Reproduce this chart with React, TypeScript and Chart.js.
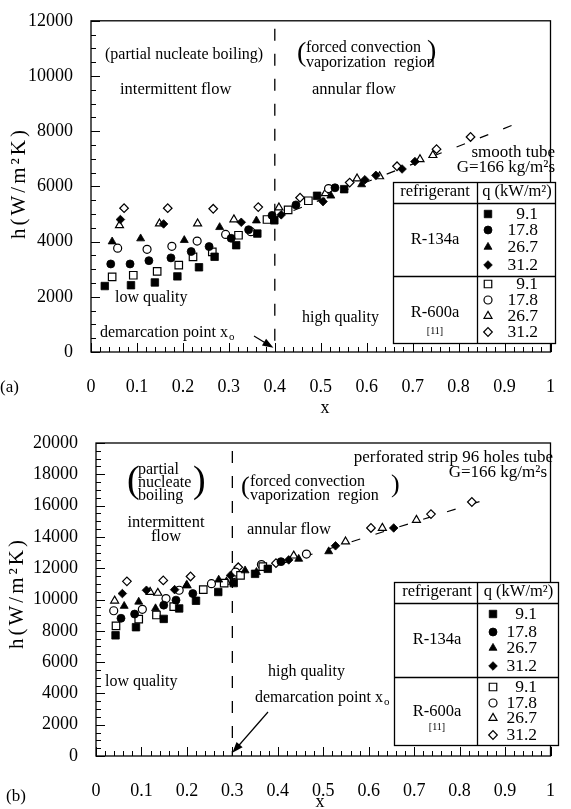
import React, { useEffect, useRef } from 'react';
import { Chart, registerables } from 'chart.js';
import { drawPoint } from 'chart.js/helpers';

Chart.register(...registerables);

const SERIF = '"Liberation Serif", "Times New Roman", serif';

type Pt = [number, number];

// ---------- tick labels ----------
const xTickValues = [0, 0.1, 0.2, 0.3, 0.4, 0.5, 0.6, 0.7, 0.8, 0.9, 1];
const xTickLabels = ['0', '0.1', '0.2', '0.3', '0.4', '0.5', '0.6', '0.7', '0.8', '0.9', '1'];
const yTickValuesA = [0, 2000, 4000, 6000, 8000, 10000, 12000];
const yTickLabelsA = ['0', '2000', '4000', '6000', '8000', '10000', '12000'];
const yTickValuesB = [0, 2000, 4000, 6000, 8000, 10000, 12000, 14000, 16000, 18000, 20000];
const yTickLabelsB = ['0', '2000', '4000', '6000', '8000', '10000', '12000', '14000', '16000', '18000', '20000'];

const refrigerants = ['R-134a', 'R-600a'];
const heatFluxes = ['9.1', '17.8', '26.7', '31.2'];

// ---------- panel (a): smooth tube ----------
const aR134a_91: Pt[] = [[0.030, 2390], [0.087, 2420], [0.139, 2520], [0.188, 2740], [0.235, 3070], [0.269, 3450], [0.316, 3870], [0.362, 4290], [0.399, 4770], [0.492, 5660], [0.551, 5900]];
const aR134a_178: Pt[] = [[0.043, 3190], [0.085, 3190], [0.126, 3310], [0.174, 3410], [0.218, 3640], [0.257, 3820], [0.305, 4120], [0.343, 4430], [0.394, 4950], [0.446, 5330], [0.531, 5950]];
const aR134a_267: Pt[] = [[0.046, 4000], [0.108, 4110], [0.203, 4050], [0.280, 4520], [0.360, 4760], [0.522, 5660], [0.589, 6070]];
const aR134a_312: Pt[] = [[0.064, 4800], [0.158, 4640], [0.327, 4700], [0.414, 4970], [0.505, 5450], [0.596, 6240], [0.620, 6400], [0.677, 6630], [0.705, 6900]];
const aR600a_91: Pt[] = [[0.046, 2720], [0.092, 2780], [0.144, 2920], [0.191, 3150], [0.222, 3450], [0.264, 3630], [0.321, 4230], [0.383, 4800], [0.429, 5150], [0.473, 5480]];
const aR600a_178: Pt[] = [[0.058, 3760], [0.122, 3720], [0.176, 3830], [0.231, 4020], [0.293, 4260], [0.348, 4360], [0.517, 5920]];
const aR600a_267: Pt[] = [[0.062, 4590], [0.149, 4650], [0.232, 4650], [0.311, 4800], [0.409, 5230], [0.510, 5750], [0.579, 6280], [0.628, 6360], [0.716, 6980], [0.744, 7130]];
const aR600a_312: Pt[] = [[0.072, 5210], [0.167, 5210], [0.266, 5190], [0.364, 5250], [0.455, 5590], [0.563, 6140], [0.666, 6730], [0.752, 7350], [0.826, 7790]];
const aTrend: Pt[] = [[0.39, 4800], [0.93, 8300]];
const aDemarcation = 0.4;

// ---------- panel (b): perforated strip 96 holes tube ----------
const bR134a_91: Pt[] = [[0.043, 7710], [0.088, 8230], [0.149, 8760], [0.183, 9430], [0.220, 9920], [0.269, 10480], [0.303, 11050], [0.350, 11640], [0.378, 11960]];
const bR134a_178: Pt[] = [[0.055, 8800], [0.085, 9070], [0.149, 9640], [0.176, 9960], [0.213, 10380], [0.407, 12420]];
const bR134a_267: Pt[] = [[0.062, 9580], [0.094, 9850], [0.131, 9430], [0.199, 10900], [0.270, 11260], [0.328, 11850], [0.353, 11750], [0.446, 12590], [0.512, 13070]];
const bR134a_312: Pt[] = [[0.058, 10380], [0.111, 10590], [0.173, 10630], [0.296, 11540], [0.424, 12530], [0.527, 13430], [0.655, 14570]];
const bR600a_91: Pt[] = [[0.044, 8320], [0.094, 8740], [0.133, 9010], [0.171, 9540], [0.236, 10630], [0.282, 11050], [0.318, 11540], [0.367, 12100]];
const bR600a_178: Pt[] = [[0.039, 9280], [0.102, 9370], [0.154, 10060], [0.183, 10590], [0.254, 11010], [0.307, 11750], [0.364, 12230], [0.463, 12900]];
const bR600a_267: Pt[] = [[0.041, 9920], [0.119, 10480], [0.136, 10420], [0.200, 10900], [0.287, 11120], [0.435, 12800], [0.549, 13700], [0.630, 14570], [0.705, 15080]];
const bR600a_312: Pt[] = [[0.068, 11160], [0.148, 11220], [0.208, 11470], [0.313, 12060], [0.396, 12320], [0.605, 14570], [0.737, 15460], [0.827, 16230]];
const bTrend: Pt[] = [[0.3, 11300], [0.876, 16550]];
const bDemarcation = 0.3;

// ---------- styling ----------
const MARKERS = [
  { style: 'rect', r: 5.3 },
  { style: 'circle', r: 4 },
  { style: 'triangle', r: 4.6 },
  { style: 'rectRot', r: 4.3 },
];

interface TextItem { t: string; x: number; y: number; size?: number; align?: CanvasTextAlign }

interface PanelCfg {
  height: number;
  padTop: number;
  padRight: number;
  yAxisW: number;
  xAxisH: number;
  yMax: number;
  yTickValues: number[];
  yTickLabels: string[];
  series: Pt[][];
  trend: Pt[];
  demarcation: number;
  texts: TextItem[];
  demarc: { x: number; y: number; tail: [number, number]; tip: [number, number] };
  legend: {
    left: number; right: number; mid: number; top: number; head: number; sep: number; bottom: number;
    rows: number[]; markerX: number; numRight: number; refX: number; r134Y: number; r600Y: number; refY: number; headY: number;
  };
  yTitle: { x: number; y: number };
  xTitle: { x: number; y: number };
  label: { t: string; x: number; y: number };
}

function font(size: number) {
  return `${size}px ${SERIF}`;
}

function drawText(ctx: CanvasRenderingContext2D, it: TextItem) {
  ctx.font = font(it.size ?? 16);
  ctx.textAlign = it.align ?? 'left';
  ctx.textBaseline = 'middle';
  ctx.fillStyle = '#000';
  ctx.fillText(it.t, it.x, it.y);
}

function makePlugin(cfg: PanelCfg) {
  return {
    id: 'annot',
    beforeDatasetsDraw(chart: any) {
      const { ctx, chartArea: ca, scales } = chart;
      const px = scales.x.getPixelForValue(cfg.demarcation);
      ctx.save();
      ctx.strokeStyle = '#000';
      ctx.lineWidth = 1.3;
      ctx.setLineDash([12, 13]);
      ctx.beginPath();
      ctx.moveTo(px, ca.top + 8);
      ctx.lineTo(px, ca.bottom);
      ctx.stroke();
      ctx.restore();
    },
    afterDraw(chart: any) {
      const { ctx, chartArea: ca, scales } = chart;
      const xs = scales.x;
      const ys = scales.y;
      ctx.save();
      // frame
      ctx.strokeStyle = '#000';
      ctx.lineWidth = 1.3;
      ctx.setLineDash([]);
      ctx.strokeRect(ca.left, ca.top, ca.right - ca.left, ca.bottom - ca.top);
      // inward ticks
      ctx.lineWidth = 1;
      ctx.beginPath();
      for (let i = 0; i <= 50; i++) {
        const p = Math.round(xs.getPixelForValue(i / 50)) + 0.5;
        const len = i % 5 === 0 ? 9 : 5;
        ctx.moveTo(p, ca.bottom);
        ctx.lineTo(p, ca.bottom - len);
      }
      const nY = cfg.yMax / 500;
      for (let i = 0; i <= nY; i++) {
        const p = Math.round(ys.getPixelForValue(i * 500)) + 0.5;
        const len = i % 4 === 0 ? 9 : 5;
        ctx.moveTo(ca.left, p);
        ctx.lineTo(ca.left + len, p);
      }
      ctx.stroke();

      // texts
      cfg.texts.forEach((t) => drawText(ctx, t));

      // demarcation point x_o + arrow
      ctx.font = font(16);
      ctx.textAlign = 'left';
      ctx.textBaseline = 'middle';
      const s = 'demarcation point x';
      ctx.fillText(s, cfg.demarc.x, cfg.demarc.y);
      const w = ctx.measureText(s).width;
      ctx.font = font(11);
      ctx.fillText('o', cfg.demarc.x + w + 1, cfg.demarc.y + 4);
      const [tx, ty] = cfg.demarc.tail;
      const hx = xs.getPixelForValue(cfg.demarc.tip[0]);
      const hy = ys.getPixelForValue(cfg.demarc.tip[1]);
      const ang = Math.atan2(hy - ty, hx - tx);
      const hl = 11, hw = 4;
      ctx.lineWidth = 1.2;
      ctx.beginPath();
      ctx.moveTo(tx, ty);
      ctx.lineTo(hx - Math.cos(ang) * hl * 0.8, hy - Math.sin(ang) * hl * 0.8);
      ctx.stroke();
      ctx.beginPath();
      ctx.moveTo(hx, hy);
      ctx.lineTo(hx - Math.cos(ang) * hl - Math.sin(ang) * hw, hy - Math.sin(ang) * hl + Math.cos(ang) * hw);
      ctx.lineTo(hx - Math.cos(ang) * hl + Math.sin(ang) * hw, hy - Math.sin(ang) * hl - Math.cos(ang) * hw);
      ctx.closePath();
      ctx.fillStyle = '#000';
      ctx.fill();

      // legend table
      const L = cfg.legend;
      ctx.fillStyle = '#fff';
      ctx.fillRect(L.left, L.top, L.right - L.left, L.bottom - L.top);
      ctx.strokeStyle = '#000';
      ctx.lineWidth = 1.3;
      ctx.strokeRect(L.left + 0.5, L.top + 0.5, L.right - L.left, L.bottom - L.top);
      ctx.beginPath();
      ctx.moveTo(L.mid + 0.5, L.top);
      ctx.lineTo(L.mid + 0.5, L.bottom);
      ctx.moveTo(L.left, L.head + 0.5);
      ctx.lineTo(L.right, L.head + 0.5);
      ctx.moveTo(L.left, L.sep + 0.5);
      ctx.lineTo(L.right, L.sep + 0.5);
      ctx.stroke();
      drawText(ctx, { t: 'refrigerant', x: L.refX, y: L.headY, size: 16.5, align: 'center' });
      drawText(ctx, { t: 'q (kW/m²)', x: (L.mid + L.right) / 2 + 1, y: L.headY, size: 16.5, align: 'center' });
      drawText(ctx, { t: refrigerants[0], x: L.refX, y: L.r134Y, size: 16.5, align: 'center' });
      drawText(ctx, { t: refrigerants[1], x: L.refX, y: L.r600Y, size: 16.5, align: 'center' });
      drawText(ctx, { t: '[11]', x: L.refX, y: L.refY, size: 10, align: 'center' });
      L.rows.forEach((ry, i) => {
        const m = MARKERS[i % 4];
        const filled = i < 4;
        ctx.fillStyle = filled ? '#000' : '#fff';
        ctx.strokeStyle = '#000';
        ctx.lineWidth = filled ? 0.8 : 1.2;
        drawPoint(ctx, { pointStyle: m.style as any, radius: m.r, borderWidth: ctx.lineWidth, rotation: 0 }, L.markerX, ry);
        drawText(ctx, { t: heatFluxes[i % 4], x: L.numRight, y: ry, size: 17.5, align: 'right' });
      });

      // axis titles
      ctx.save();
      ctx.translate(cfg.yTitle.x, cfg.yTitle.y);
      ctx.rotate(-Math.PI / 2);
      ctx.font = font(21);
      ctx.textAlign = 'center';
      ctx.textBaseline = 'middle';
      ctx.fillStyle = '#000';
      (ctx as any).letterSpacing = '3px';
      ctx.fillText('h(W/m²K)', 0, 0);
      ctx.restore();
      drawText(ctx, { t: 'x', x: cfg.xTitle.x, y: cfg.xTitle.y, size: 18, align: 'center' });
      drawText(ctx, { t: cfg.label.t, x: cfg.label.x, y: cfg.label.y, size: 17, align: 'left' });
      ctx.restore();
    },
  };
}

function buildConfig(cfg: PanelCfg): any {
  const datasets: any[] = cfg.series.map((pts, i) => {
    const m = MARKERS[i % 4];
    const filled = i < 4;
    return {
      type: 'scatter',
      label: `${refrigerants[filled ? 0 : 1]} q=${heatFluxes[i % 4]}`,
      data: pts.map(([x, y]) => ({ x, y })),
      pointStyle: m.style,
      pointRadius: m.r,
      pointBackgroundColor: filled ? '#000' : '#fff',
      pointBorderColor: '#000',
      pointBorderWidth: filled ? 0.8 : 1.2,
      showLine: false,
      order: filled ? 1 : 2,
    };
  });
  datasets.push({
    type: 'line',
    label: 'trend',
    data: cfg.trend.map(([x, y]) => ({ x, y })),
    borderColor: '#000',
    borderWidth: 1.2,
    borderDash: [9, 16],
    pointRadius: 0,
    fill: false,
    order: 3,
  });
  const tickFont = { family: SERIF, size: 18 };
  return {
    type: 'scatter',
    data: { datasets },
    options: {
      responsive: false,
      animation: false,
      events: [],
      layout: { padding: { top: cfg.padTop, right: cfg.padRight, left: 0, bottom: 0 } },
      plugins: { legend: { display: false }, tooltip: { enabled: false } },
      scales: {
        x: {
          type: 'linear',
          min: 0,
          max: 1,
          grid: { display: false },
          border: { display: false },
          afterBuildTicks: (s: any) => { s.ticks = xTickValues.map((v) => ({ value: v })); },
          afterFit: (s: any) => { s.height = cfg.xAxisH; },
          ticks: {
            callback: (_v: any, i: number) => xTickLabels[i],
            font: tickFont,
            color: '#000',
            padding: 16,
            maxRotation: 0,
            autoSkip: false,
          },
        },
        y: {
          type: 'linear',
          min: 0,
          max: cfg.yMax,
          grid: { display: false },
          border: { display: false },
          afterBuildTicks: (s: any) => { s.ticks = cfg.yTickValues.map((v) => ({ value: v })); },
          afterFit: (s: any) => { s.width = cfg.yAxisW; },
          ticks: {
            callback: (_v: any, i: number) => cfg.yTickLabels[i],
            font: tickFont,
            color: '#000',
            padding: 10,
            autoSkip: false,
          },
        },
      },
    },
    plugins: [makePlugin(cfg)],
  };
}

const panelA: PanelCfg = {
  height: 420,
  padTop: 14,
  padRight: 11,
  yAxisW: 91,
  xAxisH: 68,
  yMax: 12000,
  yTickValues: yTickValuesA,
  yTickLabels: yTickLabelsA,
  series: [aR134a_91, aR134a_178, aR134a_267, aR134a_312, aR600a_91, aR600a_178, aR600a_267, aR600a_312],
  trend: aTrend,
  demarcation: aDemarcation,
  texts: [
    { t: '(partial nucleate boiling)', x: 105, y: 55 },
    { t: 'intermittent flow', x: 120, y: 90, size: 16.5 },
    { t: '(', x: 297, y: 54, size: 28 },
    { t: 'forced convection', x: 306, y: 48 },
    { t: 'vaporization  region', x: 306, y: 63 },
    { t: ')', x: 427, y: 52, size: 28 },
    { t: 'annular flow', x: 312, y: 90, size: 16.5 },
    { t: 'smooth tube', x: 555, y: 153, size: 17, align: 'right' },
    { t: 'G=166 kg/m²s', x: 555, y: 168, size: 17, align: 'right' },
    { t: 'low quality', x: 115, y: 298 },
    { t: 'high quality', x: 302, y: 318 },
  ],
  demarc: { x: 100, y: 333, tail: [254, 336], tip: [0.397, 150] },
  legend: {
    left: 393, right: 555, mid: 477, top: 182, head: 203, sep: 276, bottom: 343,
    rows: [214, 230, 247, 265, 284, 300, 316, 332],
    markerX: 488, numRight: 538, refX: 435, r134Y: 240, r600Y: 313, refY: 331, headY: 192,
  },
  yTitle: { x: 19, y: 183 },
  xTitle: { x: 325, y: 408 },
  label: { t: '(a)', x: 0, y: 388 },
};

const panelB: PanelCfg = {
  height: 389,
  padTop: 23,
  padRight: 6,
  yAxisW: 96,
  xAxisH: 53,
  yMax: 20000,
  yTickValues: yTickValuesB,
  yTickLabels: yTickLabelsB,
  series: [bR134a_91, bR134a_178, bR134a_267, bR134a_312, bR600a_91, bR600a_178, bR600a_267, bR600a_312],
  trend: bTrend,
  demarcation: bDemarcation,
  texts: [
    { t: '(', x: 127, y: 62, size: 38 },
    { t: 'partial', x: 138, y: 50 },
    { t: 'nucleate', x: 138, y: 63 },
    { t: 'boiling', x: 138, y: 76 },
    { t: ')', x: 193, y: 62, size: 38 },
    { t: 'intermittent', x: 166, y: 103, size: 16.5, align: 'center' },
    { t: 'flow', x: 166, y: 117, size: 16.5, align: 'center' },
    { t: '(', x: 241, y: 67, size: 26 },
    { t: 'forced convection', x: 250, y: 62 },
    { t: 'vaporization  region', x: 250, y: 76 },
    { t: ')', x: 391, y: 65, size: 26 },
    { t: 'annular flow', x: 247, y: 110, size: 16.5 },
    { t: 'perforated strip 96 holes tube', x: 553, y: 38, size: 17, align: 'right' },
    { t: 'G=166 kg/m²s', x: 547, y: 53, size: 17, align: 'right' },
    { t: 'low quality', x: 105, y: 262 },
    { t: 'high quality', x: 268, y: 252 },
  ],
  demarc: { x: 255, y: 278, tail: [268, 292], tip: [0.3, 200] },
  legend: {
    left: 394, right: 558, mid: 477, top: 162, head: 183, sep: 257, bottom: 325,
    rows: [194, 212, 228, 246, 267, 283, 298, 315],
    markerX: 493, numRight: 537, refX: 437, r134Y: 220, r600Y: 292, refY: 307, headY: 172,
  },
  yTitle: { x: 17, y: 173 },
  xTitle: { x: 320, y: 382 },
  label: { t: '(b)', x: 6, y: 377 },
};

function Panel({ cfg, top }: { cfg: PanelCfg; top: number }) {
  const ref = useRef<HTMLCanvasElement>(null);
  useEffect(() => {
    if (!ref.current) return;
    const chart = new Chart(ref.current, buildConfig(cfg));
    return () => chart.destroy();
  }, [cfg]);
  return (
    <canvas
      ref={ref}
      width={571}
      height={cfg.height}
      style={{ position: 'absolute', left: 0, top, width: 571, height: cfg.height }}
    />
  );
}

export default function App() {
  return (
    <div style={{ position: 'absolute', left: 0, top: 0, width: 571, height: 809, background: '#fff' }}>
      <Panel cfg={panelA} top={0} />
      <Panel cfg={panelB} top={420} />
    </div>
  );
}
